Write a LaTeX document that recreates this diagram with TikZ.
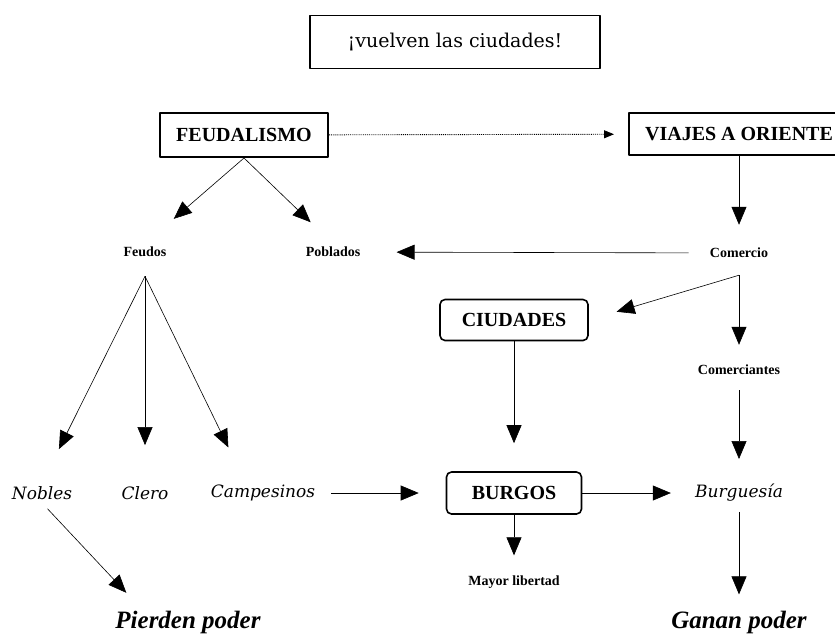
\documentclass[tikz,border=0pt]{standalone}
\usepackage{fontspec}
\newfontfamily\rotfont{Liberation Serif}
\newfontfamily\cursfont{DejaVu Serif}
\usetikzlibrary{arrows.meta}

\begin{document}
\begin{tikzpicture}[x=1pt,y=-1pt,line join=round,>={Triangle[length=18pt,width=15pt]},semithick]
	\tikzset{caja/.style={draw,line width=2pt,inner sep=0pt,font=\rotfont\fontsize{20}{24}\selectfont\bfseries},
		cajar/.style={caja,rounded corners=5pt,line width=1.6pt},
		rot/.style={inner sep=3pt,font=\rotfont\fontsize{14}{16}\selectfont\bfseries},
		curs/.style={inner sep=3pt,font=\cursfont\fontsize{17}{19}\selectfont\itshape},
		meta/.style={inner sep=3pt,font=\rotfont\fontsize{25}{28}\selectfont\bfseries\itshape}}
	\useasboundingbox (0,0) rectangle (835,635);
	% cajas
	\node[draw,line width=1.2pt,minimum width=290pt,minimum height=53pt,font=\cursfont\fontsize{19}{22}\selectfont] (titulo) at (455,42) {¡vuelven las ciudades!};
	\node[caja,minimum width=168pt,minimum height=44pt] (feud) at (244,135) {FEUDALISMO};
	\node[caja,minimum width=220pt,minimum height=42pt] (viajes) at (739,134) {VIAJES A ORIENTE};
	\node[cajar,minimum width=148pt,minimum height=41pt] (ciudades) at (514,320) {CIUDADES};
	\node[cajar,minimum width=135pt,minimum height=42pt] (burgos) at (514,493) {BURGOS};
	% textos
	\node[rot] (feudos) at (145,252) {Feudos};
	\node[rot] (poblados) at (333,252) {Poblados};
	\node[rot] (comercio) at (739,253) {Comercio};
	\node[rot] (comerciantes) at (739,370) {Comerciantes};
	\node[rot] (mayor) at (514,582) {Mayor libertad};
	\node[curs] (nobles) at (42,493) {Nobles};
	\node[curs] (clero) at (145,493) {Clero};
	\node[curs] (campesinos) at (263,493) {Campesinos};
	\node[curs] (burguesia) at (739,493) {Burguesía};
	\node[meta] (pierden) at (188,622) {Pierden poder};
	\node[meta] (ganan) at (739,622) {Ganan poder};
	\coordinate (rama) at ([yshift=-14pt]comercio.south);
	\coordinate (feudosb) at ([yshift=-16pt]feudos.south);
	% flechas
	\draw[-{Triangle[length=10pt,width=8pt]},densely dotted,line width=0.9pt,shorten >=14pt] (feud) -- (viajes);
	\draw[->,shorten >=38pt] (feud.south) -- (feudos.north);
	\draw[->,shorten >=31pt] (feud.south) -- (poblados.north);
	\draw[->,shorten >=20pt] (viajes.south) -- (comercio.north);
	\draw[->,shorten <=18pt,shorten >=33pt] (comercio) -- (poblados);
	\draw[->,shorten >=29pt] (rama) -- (ciudades.east);
	\draw[->,shorten >=17pt] (rama) -- (comerciantes.north);
	\draw[->,shorten <=12pt,shorten >=22pt] (comerciantes.south) -- (burguesia.north);
	\draw[->,shorten <=7pt,shorten >=13pt] (burguesia.south) -- (ganan.north);
	\draw[->,shorten >=28pt] (ciudades.south) -- (burgos.north);
	\draw[->,shorten >=21pt] (burgos.east) -- (burguesia.west);
	\draw[->,shorten >=17pt] (burgos.south) -- (mayor.north);
	\draw[->,shorten <=13pt,shorten >=27pt] (campesinos.east) -- (burgos.west);
	\draw[->,shorten >=38pt] (feudosb) -- (nobles.north);
	\draw[->,shorten >=38pt] (feudosb) -- (clero.north);
	\draw[->,shorten >=38pt] (feudosb) -- ([xshift=-18pt]campesinos.north);
	\draw[->,shorten <=8pt,shorten >=20pt] (nobles.south) -- ([xshift=-48pt]pierden.north);
\end{tikzpicture}
\end{document}
